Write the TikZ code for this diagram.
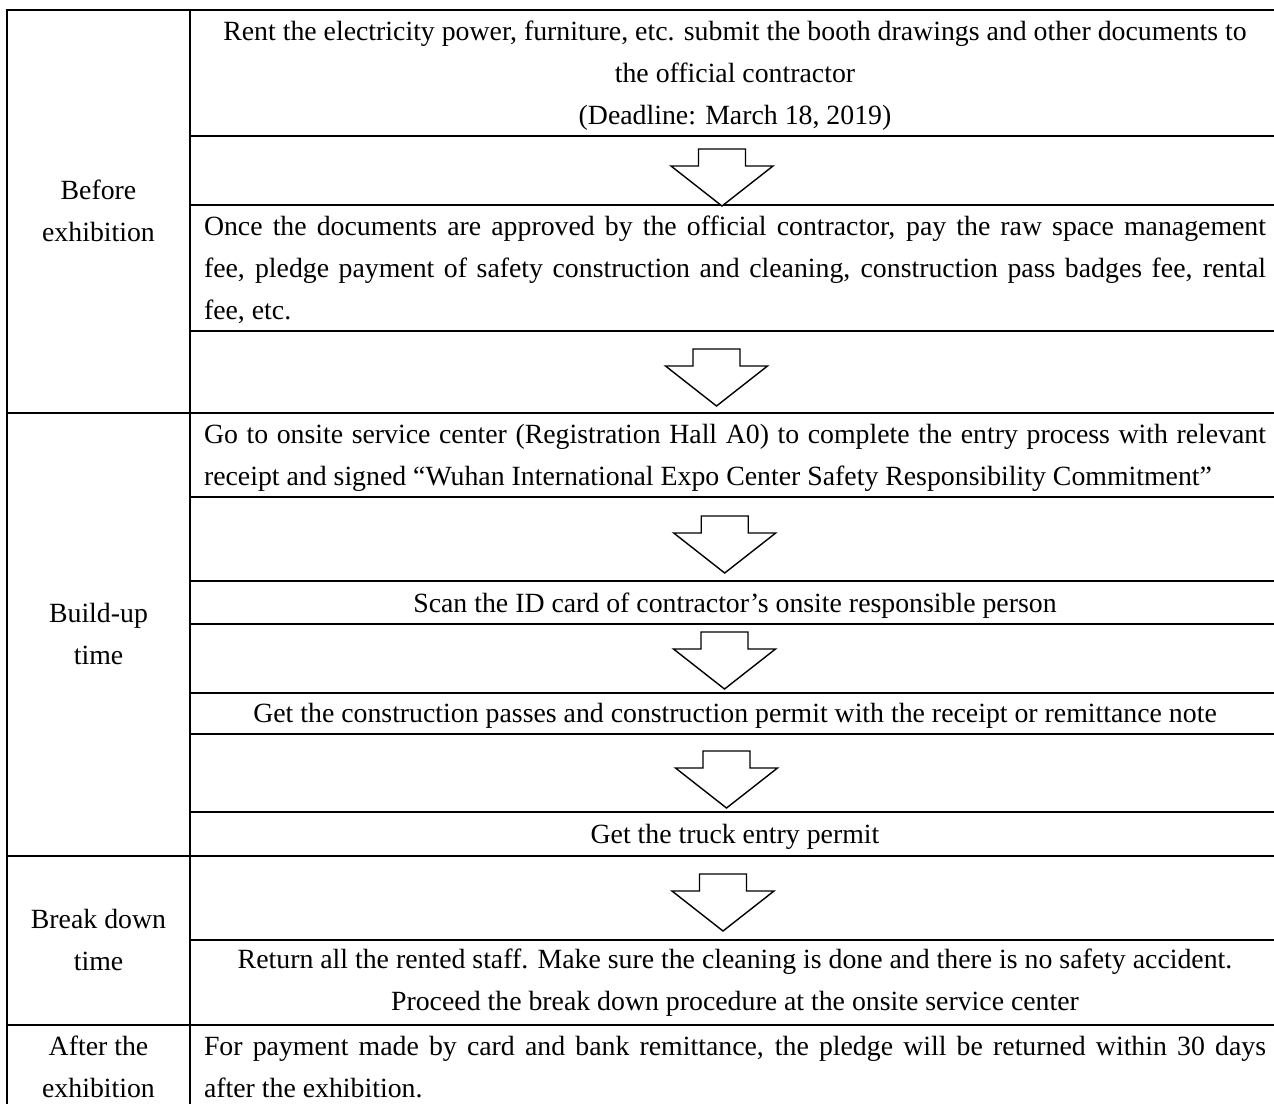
\documentclass[tikz,border=0pt]{standalone}
\usepackage{fontspec}
\setmainfont{Liberation Serif}
\newcommand\myparset{\tolerance=9999\relax\hyphenpenalty=10000\relax\exhyphenpenalty=10000\relax}
\begin{document}
\begin{tikzpicture}[x=1pt,y=-1pt,
  gridline/.style={line width=2pt},
  arrowline/.style={line width=1.4pt, line join=miter, fill=white},
  txt/.style={inner sep=0pt, font=\fontsize{27.8}{42}\selectfont},
  just/.style={txt, text width=1062pt, align=justify, anchor=north},
  ctr/.style={txt, align=center, anchor=north},
  one/.style={txt, anchor=base},
  blockarrow/.pic={\draw[arrowline] (-23.5,0) -- (23.5,0) -- (23.5,17) -- (51,17) -- (0,57) -- (-51,17) -- (-23.5,17) -- cycle;}
]
\useasboundingbox (0,0) rectangle (1274,1103);
\clip (0,0) rectangle (1274,1103);

% table frame
\draw[gridline] (7,10) -- (1300,10);
\draw[gridline] (7,9) -- (7,1120);
\draw[gridline] (190,9) -- (190,1120);
\foreach \y in {412.7,856,1025} \draw[gridline] (7,\y) -- (1300,\y);
\foreach \y in {136,205,331,497,581,623.5,693,734,812,940} \draw[gridline] (190,\y) -- (1300,\y);

% left column labels
\node[ctr] (before) at (98.5,174) {\rule{0pt}{25pt}Before\\exhibition};
\node[ctr] (build) at (98.5,597) {\rule{0pt}{25pt}Build-up\\time};
\node[ctr] (break) at (98.5,903.5) {\rule{0pt}{25pt}Break down\\time};
\node[ctr] (after) at (98.5,1030) {\rule{0pt}{25pt}After the\\exhibition};

% right column texts
\node[ctr] (rent) at (735,15) {\rule{0pt}{25pt}Rent the electricity power, furniture, etc. submit the booth drawings and other documents to\\the official contractor\\(Deadline: March 18, 2019)};
\node[just] (once) at (735,210) {\myparset\rule{0pt}{25pt}Once the documents are approved by the official contractor, pay the raw space management\linebreak fee, pledge payment of safety construction and cleaning, construction pass badges fee, rental\linebreak fee, etc.};
\node[just] (goto) at (735,418) {\myparset\rule{0pt}{25pt}Go to onsite service center (Registration Hall A0) to complete the entry process with relevant\linebreak receipt and signed “Wuhan International Expo Center Safety Responsibility Commitment”};
\node[one] (scan) at (735,612) {Scan the ID card of contractor’s onsite responsible person};
\node[one] (getpass) at (735,722) {Get the construction passes and construction permit with the receipt or remittance note};
\node[one] (truck) at (735,843) {Get the truck entry permit};
\node[ctr] (ret) at (735,943) {\rule{0pt}{25pt}Return all the rented staff. Make sure the cleaning is done and there is no safety accident.\\Proceed the break down procedure at the onsite service center};
\node[just] (pay) at (735,1030) {\myparset\rule{0pt}{25pt}For payment made by card and bank remittance, the pledge will be returned within 30 days\linebreak after the exhibition.};

% block arrows
\pic at (722,149) {blockarrow};
\pic at (716.5,349) {blockarrow};
\pic at (724.7,516) {blockarrow};
\pic at (724.5,632) {blockarrow};
\pic at (726.5,751) {blockarrow};
\pic at (723,874) {blockarrow};
\end{tikzpicture}
\end{document}
